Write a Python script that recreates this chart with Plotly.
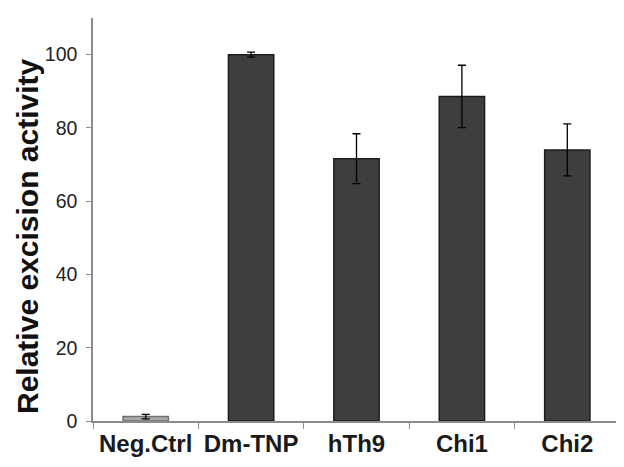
import plotly.graph_objects as go

categories = ["Neg.Ctrl", "Dm-TNP", "hTh9", "Chi1", "Chi2"]
activity = [1.2, 100.0, 71.6, 88.6, 74.0]
error = [0.6, 0.7, 6.8, 8.5, 7.1]
bar_colors = ["#a8a8a8", "#3e3e3e", "#3e3e3e", "#3e3e3e", "#3e3e3e"]
line_colors = ["#707070", "#1c1c1c", "#1c1c1c", "#1c1c1c", "#1c1c1c"]
y_ticks = [0, 20, 40, 60, 80, 100]

fig = go.Figure()
fig.add_trace(go.Bar(
    x=categories, y=activity,
    marker=dict(color=bar_colors, line=dict(color=line_colors, width=1.5)),
    width=0.43,
    error_y=dict(type="data", array=error, color="black", thickness=1.3, width=4),
))

fig.add_annotation(
    text="Relative excision activity", textangle=-90,
    xref="paper", yref="paper", x=(19 - 85) / 527, y=(413 - 229) / 403,
    xanchor="center", yanchor="middle", showarrow=False,
    font=dict(size=30, family="Liberation Sans, Arial, sans-serif", color="#111111", weight="bold"),
)

fig.update_layout(
    width=624, height=467,
    margin=dict(l=85, r=12, t=10, b=54),
    paper_bgcolor="white", plot_bgcolor="white",
    showlegend=False,
    font=dict(family="Liberation Sans, Arial, sans-serif", color="#222222"),
    xaxis=dict(
        showline=True, linecolor="#8c8c8c", linewidth=1.5,
        ticks="outside", tickson="boundaries", ticklen=6, tickcolor="#8c8c8c", tickwidth=1.2,
        tickfont=dict(size=24, family="Liberation Sans, Arial, sans-serif", color="#1a1a1a", weight="bold"),
        showgrid=False,
    ),
    yaxis=dict(
        range=[0, 110], tickvals=y_ticks,
        showline=True, linecolor="#8c8c8c", linewidth=1.5,
        ticks="outside", ticklen=5, tickcolor="#8c8c8c", tickwidth=1.2,
        showgrid=False, zeroline=False,
        tickfont=dict(size=19.5, family="Liberation Sans, Arial, sans-serif", color="#222222"),
        ticklabelstandoff=5,
    ),
)

fig.write_html("out.html")
